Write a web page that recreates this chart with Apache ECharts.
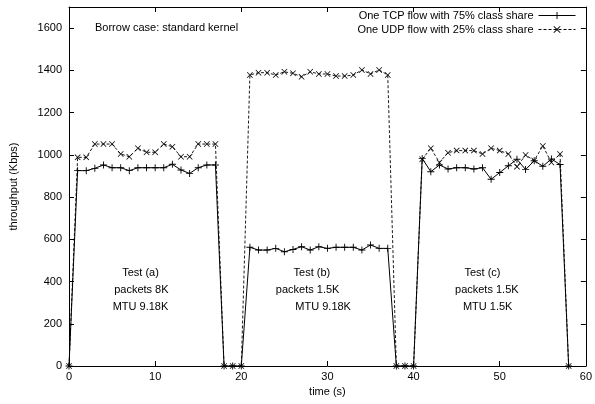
<!DOCTYPE html>
<html><head><meta charset="utf-8">
<script src="https://cdn.jsdelivr.net/npm/echarts@6/dist/echarts.min.js"></script>
<style>html,body{margin:0;padding:0;background:#fff}#c{width:595px;height:404px}</style>
</head><body><div id="c"></div><script>
// ---- data ----
const times = [0,1,2,3,4,5,6,7,8,9,10,11,12,13,14,15,16,17,18,19,20,21,22,23,24,25,26,27,28,29,30,31,32,33,34,35,36,37,38,39,40,41,42,43,44,45,46,47,48,49,50,51,52,53,54,55,56,57,58];
const tcpFlow = [0,
  925,925,936,952,939,939,925,939,939,939,939,955,928,912,939,952,952,
  0,0,0,
  562,549,549,557,541,552,565,549,565,557,562,562,562,549,573,557,557,
  0,0,0,
  983,920,952,933,939,939,933,939,884,916,948,979,930,972,946,980,954,
  0];
const udpFlow = [0,
  988,988,1051,1051,1051,1004,991,1031,1012,1012,1051,1038,991,991,1051,1051,1051,
  0,0,0,
  1378,1389,1389,1378,1393,1386,1370,1393,1383,1383,1373,1373,1378,1402,1383,1402,1378,
  0,0,0,
  979,1031,964,1010,1020,1020,1020,1004,1031,1020,1004,944,999,973,1042,964,1004,
  0];
const seriesNames = ['One TCP flow with 75% class share', 'One UDP flow with 25% class share'];
const titleText = 'Borrow case: standard kernel';
const xName = 'time (s)';
const yName = 'throughput (Kbps)';
const noteLines = [
  ['Test (a)', 'packets 8K', 'MTU 9.18K'],
  ['Test (b)', 'packets 1.5K', 'MTU 9.18K'],
  ['Test (c)', 'packets 1.5K', 'MTU 1.5K']
];
// annotation anchor positions (data coords) - layout
const notePos = [
  [[8.3,440],[8.4,360],[8.3,280]],
  [[28.2,440],[27.7,360],[29.5,280]],
  [[48.0,440],[48.5,360],[48.6,280]]
];

const FONT = 'Liberation Sans, Arial, sans-serif';
const plusPath = 'path://M-0.13,-1 L0.13,-1 L0.13,-0.13 L1,-0.13 L1,0.13 L0.13,0.13 L0.13,1 L-0.13,1 L-0.13,0.13 L-1,0.13 L-1,-0.13 L-0.13,-0.13 Z';
const crossPath = 'path://M-1,-0.82 L-0.82,-1 L0,-0.18 L0.82,-1 L1,-0.82 L0.18,0 L1,0.82 L0.82,1 L0,0.18 L-0.82,1 L-1,0.82 L-0.18,0 Z';

const tcpData = times.map((t, i) => [t, tcpFlow[i]]);
const udpData = times.map((t, i) => [t, udpFlow[i]]);

const chart = echarts.init(document.getElementById('c'), null, {renderer: 'canvas'});
function axisBase() {
  return {
    axisLine: {show: true, onZero: false, lineStyle: {color: '#000', width: 1}},
    axisTick: {show: true, inside: false, length: -5, lineStyle: {color: '#000', width: 1}},
    splitLine: {show: false}
  };
}
chart.setOption({
  animation: false,
  backgroundColor: '#fff',
  title: {
    text: titleText, left: 95, top: 22, padding: 0,
    textStyle: {fontFamily: FONT, fontSize: 11, fontWeight: 'normal', color: '#000'}
  },
  legend: {
    orient: 'vertical', right: 19, top: 10, align: 'right',
    itemWidth: 37, itemHeight: 9, itemGap: 3, padding: 0,
    lineStyle: {width: 1},
    textStyle: {fontFamily: FONT, fontSize: 11, color: '#000'},
    data: seriesNames
  },
  grid: {left: 69, right: 4, top: 7, bottom: 38, containLabel: false},
  xAxis: [
    Object.assign(axisBase(), {
      type: 'value', min: 0, max: 60, interval: 10, position: 'bottom',
      name: xName, nameLocation: 'middle', nameGap: 13,
      nameTextStyle: {fontFamily: FONT, fontSize: 11, color: '#000'},
      axisLabel: {fontFamily: FONT, fontSize: 11, color: '#000', margin: 5}
    }),
    Object.assign(axisBase(), {
      type: 'value', min: 0, max: 60, interval: 10, position: 'top',
      axisLabel: {show: false}
    })
  ],
  yAxis: [
    Object.assign(axisBase(), {
      type: 'value', min: 0, max: 1700, interval: 200, position: 'left',
      name: yName, nameLocation: 'middle', nameGap: 50,
      nameTextStyle: {fontFamily: FONT, fontSize: 11, color: '#000'},
      axisLabel: {fontFamily: FONT, fontSize: 11, color: '#000', margin: 7,
        formatter: v => (v > 1600 ? '' : String(v))}
    }),
    Object.assign(axisBase(), {
      type: 'value', min: 0, max: 1700, interval: 200, position: 'right',
      axisLabel: {show: false}
    })
  ],
  series: [
    {
      name: seriesNames[0], type: 'line', xAxisIndex: 0, yAxisIndex: 0,
      data: tcpData, symbol: plusPath, symbolSize: 7, showAllSymbol: true,
      lineStyle: {color: '#000', width: 1, type: 'solid'},
      itemStyle: {color: '#000'}, emphasis: {disabled: true}
    },
    {
      name: seriesNames[1], type: 'line', xAxisIndex: 0, yAxisIndex: 0,
      data: udpData, symbol: crossPath, symbolSize: 6, showAllSymbol: true,
      lineStyle: {color: '#000', width: 0.9, type: [3, 2]},
      itemStyle: {color: '#000'}, emphasis: {disabled: true}
    }
  ]
});

const graphics = [];
noteLines.forEach((lines, gi) => {
  lines.forEach((txt, li) => {
    const p = chart.convertToPixel({xAxisIndex: 0, yAxisIndex: 0}, notePos[gi][li]);
    graphics.push({
      type: 'text', x: p[0], y: p[1],
      style: {text: txt, fontFamily: FONT, fontSize: 11, fill: '#000', align: 'center', verticalAlign: 'middle'}
    });
  });
});
chart.setOption({graphic: graphics});
</script></body></html>
